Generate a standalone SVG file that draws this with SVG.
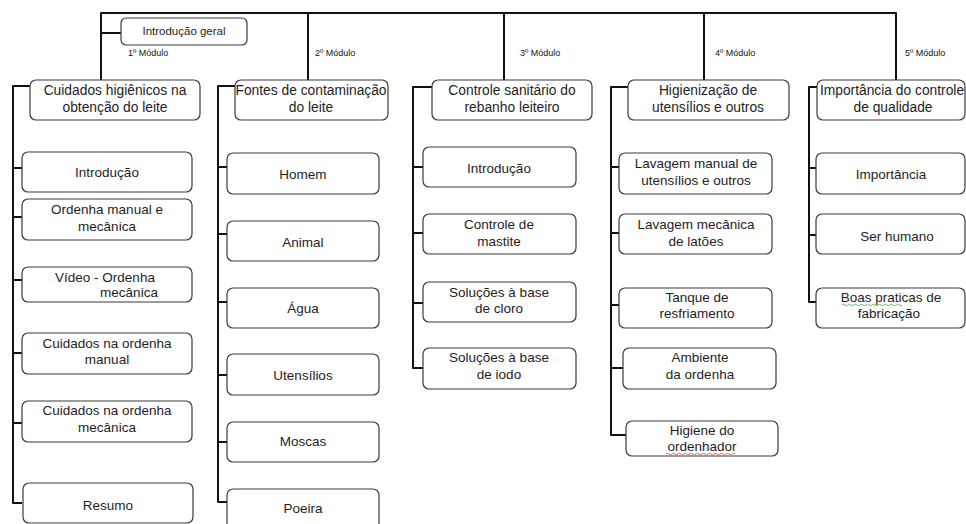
<svg xmlns="http://www.w3.org/2000/svg" width="966" height="524" viewBox="0 0 966 524">
<style>
.bx{fill:#fff;stroke:#3a3a3a;stroke-width:1.2}
.t{font-family:"Liberation Sans",Arial,sans-serif;font-size:13.5px;fill:#1e1e1e;text-anchor:middle}
.m{font-family:"Liberation Sans",Arial,sans-serif;font-size:13.8px;fill:#1e1e1e;text-anchor:middle}
.lb{font-family:"Liberation Sans",Arial,sans-serif;font-size:9px;fill:#111}
.c{fill:none;stroke:#111;stroke-width:2;stroke-linejoin:round}
</style>
<rect width="966" height="524" fill="#fff"/>
<g id="connectors">
<path class="c" d="M101 80V13H896V80M308 13V80M504 13V80M704 13V80M101 33H121"/>
<path class="c" d="M30 86H13V503H22M13 168H22M13 217H22M13 280H22M13 353H22M13 423H22"/>
<path class="c" d="M235 86H218V502H227M218 167H227M218 234H227M218 302H227M218 375H227M218 442H227"/>
<path class="c" d="M432 87H413V368H423M413 167H423M413 233H423M413 303H423"/>
<path class="c" d="M628 87H611V435H626M611 167H619M611 233H619M611 305H619M611 368H623"/>
<path class="c" d="M817 87H809V302H816M809 168H816M809 235H816"/>
</g>
<g id="labels">
<text class="lb" x="128" y="56">1º Módulo</text>
<text class="lb" x="315" y="56">2º Módulo</text>
<text class="lb" x="520" y="56">3º Módulo</text>
<text class="lb" x="715" y="56">4º Módulo</text>
<text class="lb" x="905" y="56">5º Módulo</text>
</g>
<g id="intro-geral"><rect class="bx" x="121" y="18" width="126" height="27" rx="5"/><text class="t" x="184" y="35" style="font-size:11.5px">Introdução geral</text></g>
<g id="mod1"><rect class="bx" x="30" y="80" width="170" height="40" rx="6"/><text class="m" x="115" y="95">Cuidados higiênicos na</text><text class="m" x="115" y="112">obtenção do leite</text></g>
<g id="mod2"><rect class="bx" x="235" y="80" width="153" height="40" rx="6"/><text class="m" x="311" y="95">Fontes de contaminação</text><text class="m" x="311" y="112">do leite</text></g>
<g id="mod3"><rect class="bx" x="432" y="80" width="160" height="40" rx="6"/><text class="m" x="512" y="95">Controle sanitário do</text><text class="m" x="512" y="112">rebanho leiteiro</text></g>
<g id="mod4"><rect class="bx" x="628" y="80" width="161" height="40" rx="6"/><text class="m" x="708" y="95">Higienização de</text><text class="m" x="708" y="112">utensílios e outros</text></g>
<g id="mod5"><rect class="bx" x="817" y="80" width="148" height="40" rx="6"/><text class="m" x="892" y="95">Importância do controle</text><text class="m" x="893" y="112">de qualidade</text></g>

<g id="c1-1"><rect class="bx" x="22" y="152" width="170" height="40" rx="6"/><text class="t" x="107" y="177">Introdução</text></g>
<g id="c1-2"><rect class="bx" x="22" y="199" width="170" height="41" rx="6"/><text class="t" x="107" y="214">Ordenha manual e</text><text class="t" x="107" y="231">mecânica</text></g>
<g id="c1-3"><rect class="bx" x="22" y="267" width="170" height="35" rx="6"/><text class="t" x="105" y="282">Vídeo - Ordenha</text><text class="t" x="129" y="297">mecânica</text></g>
<g id="c1-4"><rect class="bx" x="22" y="333" width="170" height="41" rx="6"/><text class="t" x="107" y="348">Cuidados na ordenha</text><text class="t" x="107" y="364">manual</text></g>
<g id="c1-5"><rect class="bx" x="22" y="401" width="170" height="41" rx="6"/><text class="t" x="107" y="415">Cuidados na ordenha</text><text class="t" x="107" y="432">mecânica</text></g>
<g id="c1-6"><rect class="bx" x="23" y="483" width="170" height="40" rx="6"/><text class="t" x="108" y="510">Resumo</text></g>

<g id="c2-1"><rect class="bx" x="227" y="153" width="152" height="41" rx="6"/><text class="t" x="303" y="179">Homem</text></g>
<g id="c2-2"><rect class="bx" x="227" y="221" width="152" height="40" rx="6"/><text class="t" x="303" y="247">Animal</text></g>
<g id="c2-3"><rect class="bx" x="227" y="288" width="152" height="40" rx="6"/><text class="t" x="303" y="313">Água</text></g>
<g id="c2-4"><rect class="bx" x="227" y="354" width="152" height="41" rx="6"/><text class="t" x="303" y="380">Utensílios</text></g>
<g id="c2-5"><rect class="bx" x="227" y="422" width="152" height="40" rx="6"/><text class="t" x="303" y="446">Moscas</text></g>
<g id="c2-6"><rect class="bx" x="227" y="489" width="152" height="40" rx="6"/><text class="t" x="303" y="513">Poeira</text></g>

<g id="c3-1"><rect class="bx" x="423" y="147" width="153" height="40" rx="6"/><text class="t" x="499" y="173">Introdução</text></g>
<g id="c3-2"><rect class="bx" x="423" y="214" width="153" height="40" rx="6"/><text class="t" x="499" y="229">Controle de</text><text class="t" x="499" y="246">mastite</text></g>
<g id="c3-3"><rect class="bx" x="423" y="282" width="153" height="40" rx="6"/><text class="t" x="499" y="297">Soluções à base</text><text class="t" x="499" y="313">de cloro</text></g>
<g id="c3-4"><rect class="bx" x="423" y="348" width="153" height="41" rx="6"/><text class="t" x="499" y="362">Soluções à base</text><text class="t" x="499" y="379">de iodo</text></g>

<g id="c4-1"><rect class="bx" x="619" y="153" width="153" height="41" rx="6"/><text class="t" x="696" y="168">Lavagem manual de</text><text class="t" x="696" y="185">utensílios e outros</text></g>
<g id="c4-2"><rect class="bx" x="619" y="214" width="153" height="40" rx="6"/><text class="t" x="696" y="229">Lavagem mecânica</text><text class="t" x="696" y="246">de latões</text></g>
<g id="c4-3"><rect class="bx" x="619" y="288" width="153" height="40" rx="6"/><text class="t" x="697" y="302">Tanque de</text><text class="t" x="697" y="318">resfriamento</text></g>
<g id="c4-4"><rect class="bx" x="623" y="348" width="153" height="41" rx="6"/><text class="t" x="700" y="362">Ambiente</text><text class="t" x="700" y="379">da ordenha</text></g>
<g id="c4-5"><rect class="bx" x="626" y="421" width="152" height="35" rx="6"/><text class="t" x="702" y="435">Higiene do</text><text class="t" x="702" y="451">ordenhador</text><path d="M666 454q1.5-1.5 3 0t3 0t3 0t3 0t3 0t3 0t3 0t3 0t3 0t3 0t3 0t3 0t3 0t3 0t3 0t3 0t3 0t3 0t3 0t3 0t3 0t3 0t3 0" fill="none" stroke="#d04040" stroke-width="0.8"/></g>

<g id="c5-1"><rect class="bx" x="816" y="153" width="149" height="41" rx="6"/><text class="t" x="891" y="179">Importância</text></g>
<g id="c5-2"><rect class="bx" x="816" y="214" width="149" height="40" rx="6"/><text class="t" x="897" y="241">Ser humano</text></g>
<g id="c5-3"><rect class="bx" x="816" y="288" width="149" height="40" rx="6"/><text class="t" x="891" y="302">Boas praticas de</text><text class="t" x="889" y="318">fabricação</text><path d="M842 305q1.5-1.5 3 0t3 0t3 0t3 0t3 0t3 0t3 0t3 0t3 0t3 0t3 0t3 0t3 0t3 0t3 0t3 0t3 0t3 0t3 0t3 0" fill="none" stroke="#50a050" stroke-width="0.8"/></g>
</svg>
